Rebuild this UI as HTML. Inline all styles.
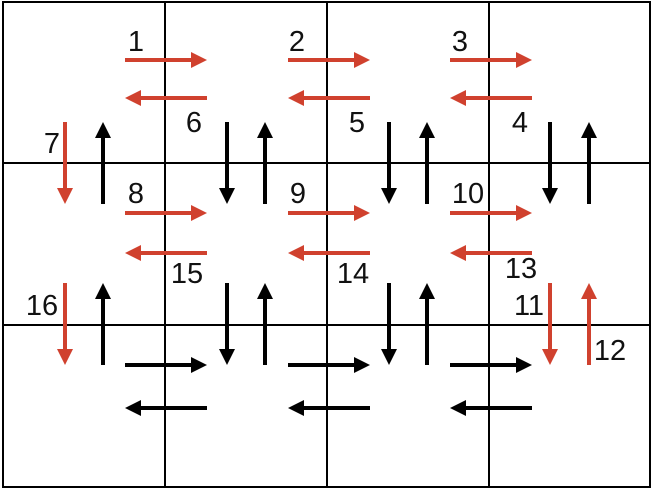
<!DOCTYPE html>
<html><head><style>html,body{margin:0;padding:0;background:#fff}</style></head><body>
<svg width="654" height="490" viewBox="0 0 654 490" xmlns="http://www.w3.org/2000/svg" font-family="Liberation Sans, sans-serif" font-size="29" fill="#111">
<g stroke="#000" stroke-width="2" fill="none">
<rect x="3" y="2" width="647" height="485"/>
<line x1="165" y1="2" x2="165" y2="487"/>
<line x1="327" y1="2" x2="327" y2="487"/>
<line x1="489" y1="2" x2="489" y2="487"/>
<line x1="3" y1="163" x2="650" y2="163"/>
<line x1="3" y1="325" x2="650" y2="325"/>
</g>
<defs>
<g id="ar"><line x1="0" y1="0" x2="66" y2="0" stroke-width="4"/><polygon points="82,0 66,-8 66,8" stroke="none"/></g>
</defs>
<g fill="#d0412e" stroke="#d0412e">
<use href="#ar" transform="translate(125,60)"/>
<use href="#ar" transform="translate(288,60)"/>
<use href="#ar" transform="translate(450,60)"/>
<use href="#ar" transform="translate(207,98) rotate(180)"/>
<use href="#ar" transform="translate(370,98) rotate(180)"/>
<use href="#ar" transform="translate(532,98) rotate(180)"/>
<use href="#ar" transform="translate(125,213)"/>
<use href="#ar" transform="translate(288,213)"/>
<use href="#ar" transform="translate(450,213)"/>
<use href="#ar" transform="translate(207,253) rotate(180)"/>
<use href="#ar" transform="translate(370,253) rotate(180)"/>
<use href="#ar" transform="translate(532,253) rotate(180)"/>
<use href="#ar" transform="translate(65,122) rotate(90)"/>
<use href="#ar" transform="translate(65,283) rotate(90)"/>
<use href="#ar" transform="translate(550,283) rotate(90)"/>
<use href="#ar" transform="translate(589,365) rotate(-90)"/>
</g>
<g fill="#000" stroke="#000">
<use href="#ar" transform="translate(125,365)"/>
<use href="#ar" transform="translate(288,365)"/>
<use href="#ar" transform="translate(450,365)"/>
<use href="#ar" transform="translate(207,408) rotate(180)"/>
<use href="#ar" transform="translate(370,408) rotate(180)"/>
<use href="#ar" transform="translate(532,408) rotate(180)"/>
<use href="#ar" transform="translate(103,204) rotate(-90)"/>
<use href="#ar" transform="translate(227,122) rotate(90)"/>
<use href="#ar" transform="translate(265,204) rotate(-90)"/>
<use href="#ar" transform="translate(389,122) rotate(90)"/>
<use href="#ar" transform="translate(427,204) rotate(-90)"/>
<use href="#ar" transform="translate(550,122) rotate(90)"/>
<use href="#ar" transform="translate(589,204) rotate(-90)"/>
<use href="#ar" transform="translate(103,365) rotate(-90)"/>
<use href="#ar" transform="translate(227,283) rotate(90)"/>
<use href="#ar" transform="translate(265,365) rotate(-90)"/>
<use href="#ar" transform="translate(389,283) rotate(90)"/>
<use href="#ar" transform="translate(427,365) rotate(-90)"/>
</g>
<g text-anchor="middle">
<text x="136" y="51">1</text>
<text x="297" y="51">2</text>
<text x="460" y="51">3</text>
<text x="194" y="132">6</text>
<text x="357" y="132">5</text>
<text x="520" y="132">4</text>
<text x="52" y="153">7</text>
<text x="136" y="203">8</text>
<text x="298" y="203">9</text>
<text x="468" y="203">10</text>
<text x="187" y="283">15</text>
<text x="353" y="283">14</text>
<text x="521" y="278">13</text>
<text x="42" y="315">16</text>
<text x="529" y="315">11</text>
<text x="610" y="360">12</text>
</g>
</svg>
</body></html>
